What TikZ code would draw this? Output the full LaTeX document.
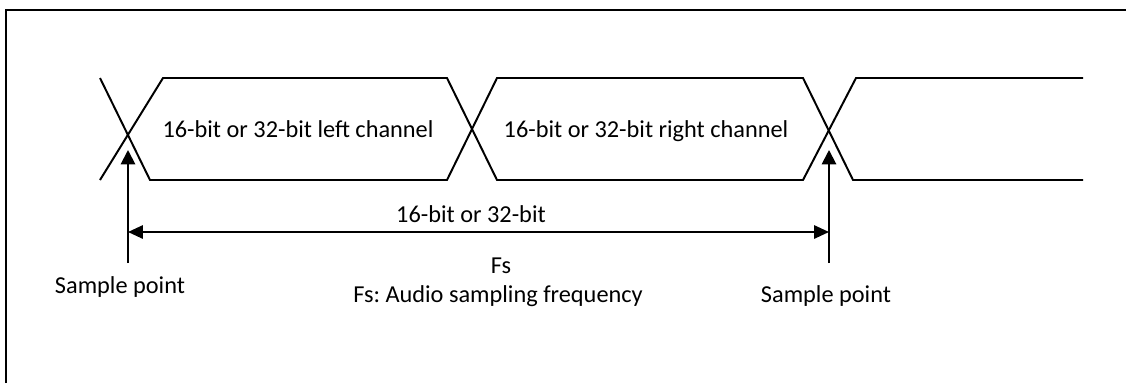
\documentclass[tikz,border=0pt]{standalone}
\usepackage{fontspec}
\setmainfont{Carlito}
\usepackage{tikz}
\usetikzlibrary{arrows.meta, positioning}
\frenchspacing
\tikzset{
  wave/.style={line width=1.4pt, draw=black, line join=miter},
  lbl/.style={
    inner sep=0pt, anchor=base,
    font=\fontsize{17.3}{20}\selectfont, text=black
  },
  markarrow/.style={
    -{Triangle[length=0.36cm, width=0.36cm]},
    line width=1.4pt, draw=black
  },
  spanarrow/.style={
    {Triangle[length=0.37cm, width=0.33cm]}-{Triangle[length=0.37cm, width=0.33cm]},
    line width=1.4pt, draw=black
  },
}

\begin{document}
\begin{tikzpicture}[
      frame/.style={line width=1.4pt, draw=black}
    ]
    \useasboundingbox (0,0) rectangle (28.15,-9.575);

    \draw[frame] (0.15,-9.575) -- (0.15,-0.25) -- (28.15,-0.25);

    \draw[wave] (2.5,-1.95) -- (3.75,-4.5) -- (11.175,-4.5) -- (12.425,-1.95)
                -- (20.075,-1.95) -- (21.325,-4.5) -- (27.075,-4.5);
    \draw[wave] (2.5,-4.5) -- (4.075,-1.95) -- (11.175,-1.95) -- (12.425,-4.5)
                -- (20.075,-4.5) -- (21.4,-1.95) -- (27.075,-1.95);

    \node[lbl] (left)  at (7.45,-3.425)  {16-bit or 32-bit left channel};
    \node[lbl] (right) at (16.15,-3.425) {16-bit or 32-bit right channel};

    \coordinate (sp1)    at (3.2,-3.75);
    \coordinate (sp1low) at (3.2,-6.575);
    \coordinate (sp2)    at (20.725,-3.75);
    \coordinate (sp2low) at (20.725,-6.575);
    \coordinate (spanl)  at (3.2,-5.8);
    \coordinate (spanr)  at (20.725,-5.8);

    \draw[markarrow] (sp1low) -- (sp1);
    \draw[markarrow] (sp2low) -- (sp2);
    \draw[spanarrow] (spanl) -- (spanr);

    \node[lbl] (bits)   at (11.775,-5.55) {16-bit or 32-bit};
    \node[lbl] (fs)     at (12.525,-6.825) {Fs};
    \node[lbl] (fsdesc) at (12.45,-7.55)  {Fs: Audio sampling frequency};
    \node[lbl] (spl)    at (3.0,-7.325)   {Sample point};
    \node[lbl] (spr)    at (20.65,-7.55)  {Sample point};

  \end{tikzpicture}
\end{document}
